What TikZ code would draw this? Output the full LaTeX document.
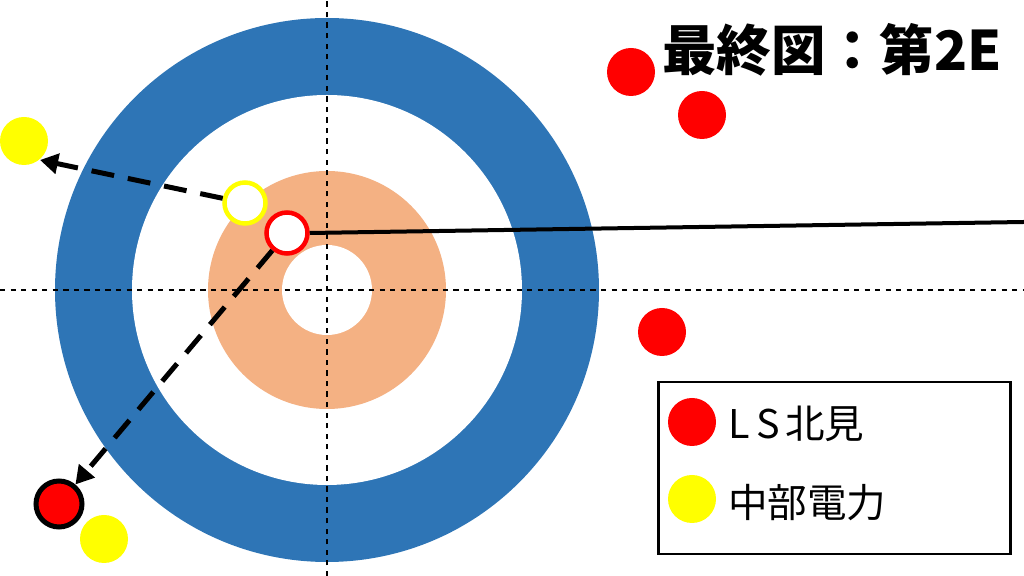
\documentclass[tikz,border=0pt]{standalone}
\usepackage{fontspec}
\setmainfont{Noto Sans CJK JP}
\usepackage{tikz}
\usepackage{xcolor}
\usetikzlibrary{arrows.meta, calc}

\definecolor{houseblue}{HTML}{2E75B6}
\definecolor{houseorange}{HTML}{F4B183}
\definecolor{stonered}{HTML}{FF0000}
\definecolor{stoneyellow}{HTML}{FFFF00}

\tikzset{
    stone/.style={circle, minimum size=0.96cm, inner sep=0pt},
    openstone/.style={circle, minimum size=0.82cm, inner sep=0pt, fill=white, line width=0.09cm},
    guide/.style={dashed, black, line width=0.6pt},
    shot/.style={black, line width=0.1cm, dash pattern=on 0.46cm off 0.28cm, -{Triangle[length=0.36cm, width=0.4cm]}},
    keytext/.style={anchor=west, font=\fontsize{22.5}{26}\selectfont, inner sep=0pt}
}

\begin{document}
\begin{tikzpicture}
    \useasboundingbox (0,0) rectangle (20.48,11.52);
    % =========================================================
    % HOUSE RINGS
    % =========================================================
    \coordinate (tee) at (6.54,5.72);
    \fill[houseblue] (tee) circle (5.44);
    \fill[white] (tee) circle (3.90);
    \fill[houseorange] (tee) circle (2.38);
    \fill[white] (tee) circle (0.90);

    % Center Line & Tee Line Guides
    \draw[guide] (6.54,0) -- (6.54,11.52);
    \draw[guide] (0,5.72) -- (20.48,5.72);

    % =========================================================
    % STONES IN PLAY
    % =========================================================
    \node[stone, fill=stonered] (red1) at (12.62,10.08) {};
    \node[stone, fill=stonered] (red2) at (14.04,9.22) {};
    \node[stone, fill=stonered] (red3) at (13.24,4.88) {};
    \node[stone, fill=stoneyellow] (yellowout) at (0.48,8.70) {};
    \node[stone, fill=stoneyellow] (yellowlow) at (2.08,0.74) {};
    \node[stone, minimum size=0.92cm, fill=stonered, draw=black, line width=0.1cm] (redmoved) at (1.18,1.44) {};

    % Previous Positions (Open Rings)
    \node[openstone, draw=stoneyellow] (yellowold) at (4.90,7.46) {};
    \node[openstone, draw=stonered] (redold) at (5.74,6.86) {};

    % =========================================================
    % SHOT PATHS
    % =========================================================
    \coordinate (yellowtip) at (0.80,8.32);
    \coordinate (lineend) at (20.48,7.08);
    \draw[black, line width=0.08cm] (redold.east) -- (lineend);
    \draw[shot] (yellowold) -- (yellowtip);
    \draw[shot] (redold) -- (redmoved);

    % =========================================================
    % TITLE & LEGEND
    % =========================================================
    \node[font=\fontsize{31}{36}\selectfont\bfseries, inner sep=0pt] (title) at (16.64,10.52) {最終図：第2E};

    \node[draw=black, line width=0.05cm, minimum width=7.04cm, minimum height=3.44cm, anchor=north west] (legend) at (13.14,3.90) {};
    \node[stone, fill=stonered] (keyred) at (13.84,3.08) {};
    \node[stone, fill=stoneyellow] (keyyellow) at (13.84,1.54) {};
    \node[keytext] (labred) at (14.56,3.04) {L\kern0.18em S\kern0.12em 北見};
    \node[keytext] (labyellow) at (14.56,1.46) {中部電力};
\end{tikzpicture}
\end{document}
